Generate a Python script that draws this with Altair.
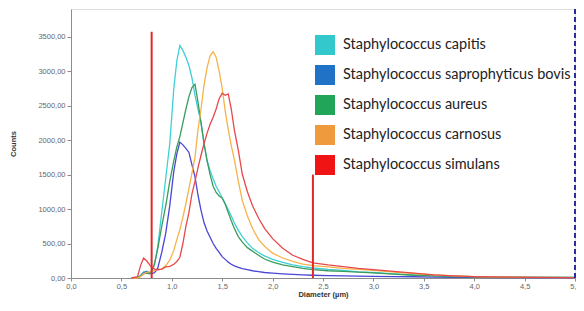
import altair as alt
import pandas as pd

diameter = [0.60, 0.66, 0.69, 0.72, 0.75, 0.78, 0.80, 0.83, 0.86, 0.90, 0.94, 0.98, 1.02, 1.05,
            1.08, 1.11, 1.14, 1.17, 1.20, 1.23, 1.26, 1.29, 1.32, 1.35, 1.38, 1.41, 1.44, 1.47,
            1.50, 1.53, 1.56, 1.59, 1.62, 1.66, 1.70, 1.75, 1.80, 1.86, 1.92, 2.00, 2.10, 2.20,
            2.30, 2.40, 2.55, 2.70, 2.85, 3.00, 3.20, 3.40, 3.60, 3.80, 4.00, 4.30, 4.60, 5.00]

capitis = [0, 0, 40, 90, 100, 80, 90, 200, 450, 950, 1450, 1950, 2750, 3150,
           3370, 3300, 3200, 3080, 2900, 2650, 2450, 2250, 1950, 1700, 1560, 1440, 1330, 1250,
           1160, 1080, 990, 900, 800, 690, 600, 510, 430, 370, 320, 270, 225, 190,
           165, 145, 125, 110, 90, 80, 60, 45, 35, 25, 20, 15, 12, 10]

saprophyticus = [0, 0, 30, 70, 90, 70, 60, 80, 140, 370, 650, 1050, 1550, 1800,
                 1970, 1930, 1880, 1820, 1640, 1470, 1200, 980, 800, 680, 590, 500, 430, 370,
                 310, 270, 230, 200, 175, 155, 135, 120, 105, 92, 80, 70, 60, 52,
                 45, 40, 35, 30, 28, 25, 20, 18, 14, 10, 8, 5, 4, 3]

aureus = [0, 0, 30, 60, 70, 60, 80, 220, 420, 750, 1050, 1400, 1700, 1900,
          2050, 2250, 2450, 2630, 2760, 2810, 2550, 2250, 1950, 1700, 1500, 1330, 1240, 1190,
          1160, 1070, 950, 830, 720, 600, 520, 440, 390, 330, 275, 230, 190, 165,
          140, 120, 105, 95, 85, 75, 55, 40, 30, 22, 18, 12, 10, 8]

carnosus = [0, 0, 20, 60, 80, 90, 100, 110, 120, 130, 180, 260, 400, 560,
            700, 880, 1080, 1300, 1520, 1750, 2150, 2450, 2800, 3050, 3220, 3280, 3200, 3000,
            2750, 2420, 2150, 1920, 1720, 1400, 1120, 900, 720, 560, 460, 360, 290, 240,
            200, 180, 160, 140, 125, 110, 85, 65, 45, 30, 20, 12, 8, 5]

simulans = [0, 20, 180, 290, 250, 190, 160, 130, 120, 130, 160, 170, 200, 240,
            300, 500, 750, 950, 1220, 1400, 1600, 1780, 1950, 2100, 2230, 2330, 2450, 2600,
            2680, 2650, 2670, 2450, 2150, 1850, 1500, 1250, 1050, 870, 720, 570, 430, 330,
            270, 220, 190, 165, 140, 120, 95, 70, 45, 30, 20, 12, 8, 5]

species = ["Staphylococcus capitis", "Staphylococcus saprophyticus bovis",
           "Staphylococcus aureus", "Staphylococcus carnosus", "Staphylococcus simulans"]
line_colors = ["#3FCFD8", "#4A46D6", "#3B9C5C", "#F6B34A", "#E8484A"]
legend_colors = ["#33C9CC", "#1F72C6", "#21A559", "#F09A3E", "#F01414"]

gate_d = [0.8, 2.4]
gate_top = [3570, 1500]
bound_d = [5.0]
bound_top = [3900]

x_ticks = [0, 0.5, 1.0, 1.5, 2.0, 2.5, 3.0, 3.5, 4.0, 4.5, 5.0]
y_ticks = [0, 500, 1000, 1500, 2000, 2500, 3000, 3500]

rows = []
for name, vals in zip(species, [capitis, saprophyticus, aureus, carnosus, simulans]):
    for d, c in zip(diameter, vals):
        rows.append({"species": name, "diameter": d, "counts": c})
df = pd.DataFrame(rows)

x_scale = alt.Scale(domain=[0, 5], nice=False, zero=False)
y_scale = alt.Scale(domain=[0, 3900], nice=False)

axis_common = dict(grid=False, domainColor="#8c8c8c", tickColor="#8c8c8c",
                   labelFontSize=7.5, labelColor="#666666", labelFont="Liberation Sans",
                   titleFont="Liberation Sans", titleFontSize=7.5, titleFontWeight="bold",
                   titleColor="#333333", labelOverlap=False)

x_axis = alt.Axis(values=x_ticks, labelExpr="replace(format(datum.value, '.1f'), '.', ',')",
                  tickSize=3, labelPadding=1, titlePadding=1, labelFlush=False, **axis_common)
y_axis = alt.Axis(values=y_ticks, labelExpr="replace(format(datum.value, '.2f'), '.', ',')",
                  tickSize=4, labelPadding=2, titlePadding=20, **axis_common)


def xenc():
    return alt.X("diameter:Q", scale=x_scale, axis=x_axis, title="Diameter (µm)")


def yenc(field):
    return alt.Y(field, scale=y_scale, axis=y_axis, title="Counts")


lines = alt.Chart(df).mark_line(strokeWidth=1.3).encode(
    x=xenc(),
    y=yenc("counts:Q"),
    color=alt.Color("species:N", scale=alt.Scale(domain=species, range=line_colors), legend=None),
    order=alt.Order("diameter:Q"),
)

legend_df = pd.DataFrame({"species": species, "diameter": [-1.0] * 5, "counts": [0] * 5})
legend_layer = alt.Chart(legend_df).mark_square(clip=True, size=10, filled=True).encode(
    x=xenc(),
    y=yenc("counts:Q"),
    color=alt.Color("species:N", scale=alt.Scale(domain=species, range=legend_colors),
                    legend=alt.Legend(title=None, orient="none", legendX=244, legendY=26,
                                      symbolType="square", symbolSize=400, symbolStrokeWidth=0,
                                      symbolOpacity=1, labelFont="Lato", labelFontSize=14.5,
                                      labelColor="#222222", rowPadding=10, labelOffset=8,
                                      labelLimit=400)),
)

gates_df = pd.DataFrame({"diameter": gate_d, "bottom": [0, 0], "top": gate_top})
gates = alt.Chart(gates_df).mark_rule(color="#E02828", strokeWidth=2).encode(
    x=xenc(),
    y=yenc("bottom:Q"),
    y2="top:Q",
)

bound_df = pd.DataFrame({"diameter": bound_d, "bottom": [0], "top": bound_top})
bound = alt.Chart(bound_df).mark_rule(color="#2B2B9C", strokeWidth=2, strokeDash=[5, 3]).encode(
    x=xenc(),
    y=yenc("bottom:Q"),
    y2="top:Q",
)

chart = alt.layer(lines, gates, bound, legend_layer).resolve_scale(
    color="independent"
).resolve_legend(color="independent").properties(
    width=504, height=269,
    autosize=alt.AutoSizeParams(type="none"),
    padding={"left": 63, "top": 1, "right": 1, "bottom": 21},
).configure_view(stroke="#aaaaaa", strokeWidth=1).configure(background="white")

chart.save("out.html", embed_options={"renderer": "svg", "actions": False})
